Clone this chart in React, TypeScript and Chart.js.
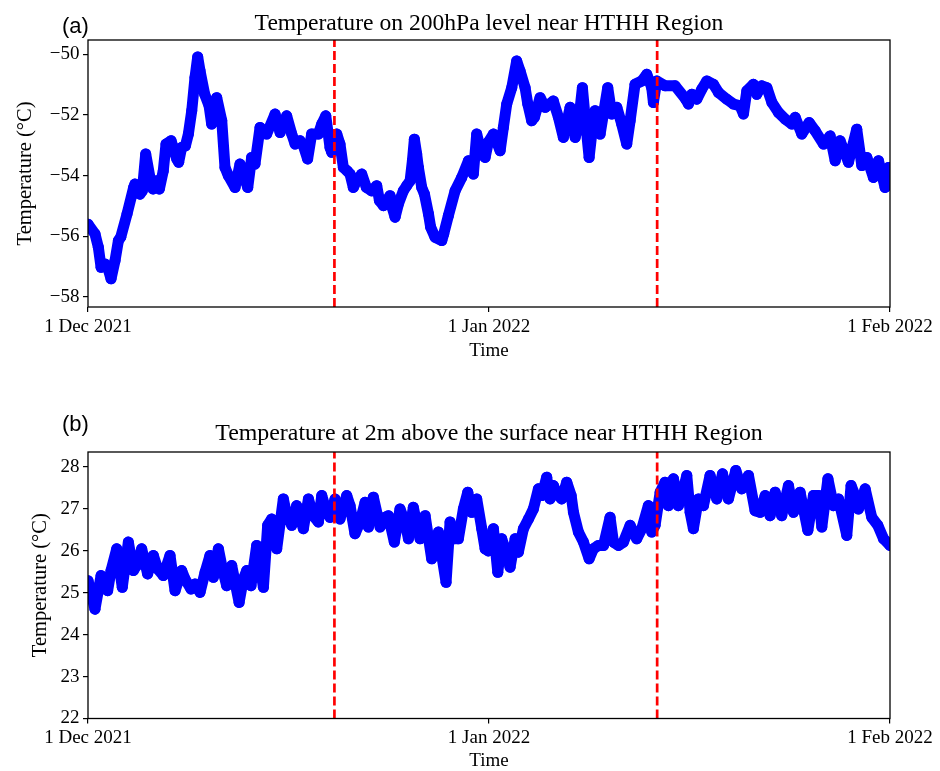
import React, { useEffect, useRef } from 'react';
import { Chart, registerables } from 'chart.js';

Chart.register(...registerables);

// x axis: days since 1 Dec 2021 00:00
const xTickDays = [0, 31, 62];
const xTickLabels = ['1 Dec 2021', '1 Jan 2022', '1 Feb 2022'];
const eruptionDays = [19.05, 44.0];

const yTicksA = [-58, -56, -54, -52, -50];
const yTicksB = [22, 23, 24, 25, 26, 27, 28];

// (a) 200 hPa temperature
const daysA = [
  0.0, 0.54, 0.8, 1.01, 1.31, 1.52, 1.78, 2.09, 2.35, 2.53, 3.02, 3.53, 3.63, 4.02, 4.2, 4.46, 4.79, 5.03, 5.31, 5.52,
  5.82, 6.03, 6.42, 6.86, 7.01, 7.24, 7.53, 7.76, 8.02, 8.27, 8.48, 8.66, 9.02, 9.36, 9.56, 9.95, 10.34, 10.59, 10.85, 11.37,
  11.75, 12.35, 12.65, 12.91, 13.3, 13.81, 14.46, 14.85, 15.36, 15.75, 16.01, 16.39, 16.65, 16.98, 17.29, 17.81, 18.07, 18.38, 18.71, 18.84,
  19.23, 19.48, 19.74, 20.03, 20.26, 20.51, 20.77, 21.16, 21.52, 21.93, 22.32, 22.53, 22.84, 23.35, 23.51, 23.74, 24.0, 24.38, 24.64, 24.9,
  25.08, 25.23, 25.41, 25.54, 25.8, 26.01, 26.32, 26.49, 26.83, 27.35, 27.5, 27.86, 28.38, 28.89, 29.41, 29.79, 30.05, 30.44, 30.7, 30.95,
  31.34, 31.86, 32.11, 32.37, 32.76, 33.14, 33.4, 33.79, 34.0, 34.3, 34.51, 34.95, 35.34, 35.97, 36.37, 36.75, 37.27, 37.66, 37.91, 38.22,
  38.43, 38.74, 39.0, 39.2, 39.59, 40.18, 40.49, 40.88, 41.26, 41.65, 41.91, 42.29, 42.81, 43.2, 43.58, 43.71, 43.97, 44.61, 45.39, 46.16,
  46.42, 46.68, 47.06, 47.45, 47.84, 48.35, 48.74, 49.38, 49.9, 50.41, 50.67, 50.93, 51.44, 51.7, 52.09, 52.48, 52.87, 53.38, 53.9, 54.41,
  54.67, 55.18, 55.75, 56.21, 56.86, 57.37, 57.76, 58.14, 58.79, 59.43, 59.82, 60.21, 60.72, 61.11, 61.62, 61.88, 62.0,
];
const temp200 = [
  -55.6, -55.92, -56.36, -57.02, -56.91, -57.02, -57.4, -56.8, -56.14, -56.03, -55.26, -54.39, -54.28, -54.61, -54.5, -53.29, -54.06, -54.44, -54.17, -54.44,
  -53.84, -52.96, -52.85, -53.45, -53.56, -53.07, -53.02, -52.63, -51.86, -50.77, -50.09, -50.55, -51.32, -51.7, -52.3, -51.43, -52.19, -53.73, -54.0, -54.39,
  -53.62, -54.39, -53.4, -53.62, -52.41, -52.63, -51.97, -52.58, -52.03, -52.63, -52.96, -52.85, -53.02, -53.45, -52.63, -52.63, -52.3, -52.03, -53.07, -53.23,
  -52.63, -52.96, -53.73, -53.84, -53.95, -54.39, -54.17, -53.95, -54.39, -54.5, -54.33, -54.82, -54.99, -54.66, -55.04, -55.37, -54.93, -54.5, -54.33, -54.17,
  -53.51, -52.8, -53.29, -53.73, -54.39, -54.61, -55.26, -55.7, -56.03, -56.14, -55.92, -55.32, -54.5, -54.06, -53.51, -53.95, -52.63, -53.29, -53.4, -52.9,
  -52.63, -53.18, -52.41, -51.64, -51.1, -50.22, -50.55, -51.1, -51.64, -52.19, -52.08, -51.43, -51.75, -51.54, -52.08, -52.74, -51.75, -52.74, -52.3, -51.1,
  -52.08, -53.4, -52.41, -51.86, -52.63, -51.1, -51.97, -51.75, -52.3, -52.96, -52.19, -50.99, -50.88, -50.66, -51.1, -51.59, -50.88, -51.04, -51.04, -51.45,
  -51.64, -51.32, -51.48, -51.15, -50.88, -50.99, -51.26, -51.48, -51.64, -51.7, -51.97, -51.21, -50.99, -51.32, -51.04, -51.1, -51.59, -51.92, -52.14, -52.3,
  -52.08, -52.63, -52.25, -52.52, -52.96, -52.69, -53.51, -52.85, -53.56, -52.47, -53.67, -53.4, -54.06, -53.51, -54.39, -53.73, -53.95,
];

// (b) 2 m temperature
const daysB = [
  0.0, 0.54, 1.01, 1.52, 1.78, 2.22, 2.65, 3.12, 3.51, 3.76, 4.15, 4.61, 5.05, 5.39, 5.82, 6.34, 6.73, 7.24, 7.5, 7.96,
  8.27, 8.66, 9.05, 9.43, 9.69, 10.08, 10.39, 10.72, 11.11, 11.68, 12.01, 12.27, 12.6, 13.04, 13.56, 13.89, 14.2, 14.59, 15.1, 15.3,
  15.75, 16.13, 16.65, 17.04, 17.42, 17.81, 18.07, 18.45, 18.71, 19.1, 19.48, 20.0, 20.26, 20.64, 21.03, 21.42, 21.68, 22.06, 22.58, 22.96,
  23.22, 23.68, 24.12, 24.51, 24.77, 25.15, 25.67, 26.06, 26.57, 26.83, 27.09, 27.35, 27.68, 27.99, 28.25, 28.63, 29.02, 29.36, 29.67, 30.05,
  30.44, 30.7, 30.95, 31.34, 31.68, 31.98, 32.24, 32.63, 33.02, 33.27, 33.66, 34.05, 34.43, 34.82, 35.08, 35.46, 35.72, 35.98, 36.24, 36.62,
  37.01, 37.35, 37.53, 37.91, 38.3, 38.74, 39.07, 39.46, 39.85, 40.36, 40.62, 41.01, 41.39, 41.91, 42.42, 42.81, 43.32, 43.58, 43.84, 44.23,
  44.61, 44.87, 45.26, 45.64, 46.03, 46.29, 46.55, 46.8, 47.19, 47.58, 48.09, 48.61, 49.05, 49.51, 50.08, 50.54, 51.06, 51.57, 51.96, 52.35,
  52.73, 53.12, 53.63, 54.15, 54.54, 55.05, 55.65, 56.08, 56.47, 56.73, 57.2, 57.63, 58.02, 58.66, 58.99, 59.3, 59.56, 60.08, 60.59, 61.06,
  61.5, 62.0,
];
const temp2m = [
  25.29, 24.61, 25.41, 25.05, 25.53, 26.05, 25.13, 26.21, 25.53, 25.65, 26.05, 25.45, 25.89, 25.57, 25.41, 25.89, 25.05, 25.53, 25.33, 25.09,
  25.21, 25.01, 25.49, 25.89, 25.37, 26.05, 25.57, 25.17, 25.65, 24.77, 25.33, 25.53, 25.17, 26.13, 25.13, 26.61, 26.76, 26.05, 27.24, 26.95,
  26.61, 27.08, 26.53, 27.24, 26.84, 26.69, 27.32, 26.92, 26.8, 27.24, 26.76, 27.32, 27.08, 26.41, 26.69, 27.16, 26.57, 27.28, 26.57, 26.8,
  26.84, 26.21, 27.0, 26.69, 26.29, 27.04, 26.29, 26.84, 25.81, 26.13, 26.45, 25.89, 25.25, 26.69, 26.29, 26.29, 27.0, 27.4, 26.92, 27.24,
  26.53, 26.05, 26.0, 26.53, 25.49, 26.29, 26.05, 25.61, 26.29, 25.97, 26.53, 26.76, 27.0, 27.48, 27.32, 27.76, 27.24, 27.56, 27.36, 27.24,
  27.64, 27.32, 26.92, 26.45, 26.21, 25.81, 26.05, 26.13, 26.13, 26.8, 26.21, 26.13, 26.21, 26.61, 26.29, 26.53, 27.08, 26.45, 26.61, 27.4,
  27.64, 27.08, 27.72, 27.08, 27.48, 27.8, 26.92, 26.53, 27.24, 27.08, 27.8, 27.24, 27.84, 27.24, 27.92, 27.48, 27.8, 26.96, 26.92, 27.32,
  26.84, 27.4, 26.84, 27.56, 26.92, 27.4, 26.49, 27.32, 27.32, 26.57, 27.72, 27.08, 27.24, 26.37, 27.56, 27.32, 27.0, 27.48, 26.8, 26.61,
  26.29, 26.13,
];

const SERIF = '"Liberation Serif", "DejaVu Serif", serif';
const SANS = '"Liberation Sans", Arial, sans-serif';

const panelDecor = {
  id: 'panelDecor',
  afterDatasetsDraw(chart: any, _args: any, o: any) {
    const { ctx, chartArea: ca } = chart;
    ctx.save();
    ctx.strokeStyle = '#000';
    ctx.lineWidth = 1.3;
    ctx.strokeRect(ca.left, ca.top, ca.right - ca.left, ca.bottom - ca.top);
    ctx.fillStyle = '#000';
    ctx.textBaseline = 'alphabetic';
    ctx.font = `${o.titleSize}px ${SERIF}`;
    ctx.textAlign = 'center';
    ctx.fillText(o.title, (ca.left + ca.right) / 2, o.titleY);
    ctx.font = `22px ${SANS}`;
    ctx.textAlign = 'left';
    ctx.fillText(o.letter, o.letterX, o.letterY);
    ctx.restore();
  },
};

type PanelCfg = {
  days: number[];
  temps: number[];
  yMin: number;
  yMax: number;
  yTicks: number[];
  title: string;
  titleSize: number;
  letter: string;
  padTop: number;
  xAxisHeight: number;
  xTitlePad: number;
  yTitlePad: number;
  titleY: number;
  letterY: number;
};

function makeChart(canvas: HTMLCanvasElement, c: PanelCfg) {
  const tickFont = { family: SERIF, size: 19 };
  const grid = {
    display: true,
    drawOnChartArea: false,
    drawTicks: true,
    tickLength: 5,
    color: '#000',
    lineWidth: 1.2,
  };
  const datasets: any[] = eruptionDays.map((d) => ({
    type: 'line',
    data: [
      { x: d, y: c.yMin },
      { x: d, y: c.yMax },
    ],
    borderColor: '#f00',
    borderWidth: 2.7,
    borderDash: [9, 4],
    pointRadius: 0,
    clip: 0,
    order: 1,
  }));
  datasets.push({
    type: 'line',
    data: c.days.map((d, i) => ({ x: d, y: c.temps[i] })),
    borderColor: '#0000ff',
    backgroundColor: '#0000ff',
    borderWidth: 11,
    borderJoinStyle: 'round',
    borderCapStyle: 'round',
    pointRadius: 5.5,
    pointBorderWidth: 0,
    pointBackgroundColor: '#0000ff',
    tension: 0,
    clip: 0,
    order: 2,
  });
  return new Chart(canvas, {
    type: 'line',
    data: { datasets },
    plugins: [panelDecor as any],
    options: {
      responsive: false,
      maintainAspectRatio: false,
      animation: false,
      events: [],
      layout: { padding: { top: c.padTop, right: 50, left: 0, bottom: 0 } },
      plugins: {
        legend: { display: false },
        tooltip: { enabled: false },
        title: { display: false },
        panelDecor: {
          title: c.title,
          titleSize: c.titleSize,
          letter: c.letter,
          titleY: c.titleY,
          letterX: 62,
          letterY: c.letterY,
        },
      } as any,
      scales: {
        x: {
          type: 'linear',
          min: 0,
          max: 62,
          afterBuildTicks: (s: any) => {
            s.ticks = xTickDays.map((v) => ({ value: v }));
          },
          afterFit: (s: any) => {
            s.height = c.xAxisHeight;
            s.paddingLeft = 0;
            s.paddingRight = 0;
          },
          ticks: {
            autoSkip: false,
            maxRotation: 0,
            padding: 3.5,
            color: '#000',
            font: tickFont,
            callback: (v: any) => {
              const i = xTickDays.indexOf(Number(v));
              return i >= 0 ? xTickLabels[i] : '';
            },
          },
          grid,
          border: { display: false },
          title: {
            display: true,
            text: 'Time',
            color: '#000',
            font: { family: SERIF, size: 19, lineHeight: 1 },
            padding: { top: 0, bottom: c.xTitlePad },
          },
        },
        y: {
          type: 'linear',
          min: c.yMin,
          max: c.yMax,
          afterBuildTicks: (s: any) => {
            s.ticks = c.yTicks.map((v) => ({ value: v }));
          },
          afterFit: (s: any) => {
            s.width = 88;
            s.paddingTop = 0;
            s.paddingBottom = 0;
          },
          ticks: {
            padding: 3.5,
            color: '#000',
            font: tickFont,
            callback: (v: any) => String(v).replace('-', '\u2212'),
          },
          grid,
          border: { display: false },
          title: {
            display: true,
            text: 'Temperature (°C)',
            color: '#000',
            font: { family: SERIF, size: 20.5, lineHeight: 1 },
            padding: { top: c.yTitlePad, bottom: 0 },
          },
        },
      },
    } as any,
  });
}

export default function App() {
  const refA = useRef<HTMLCanvasElement>(null);
  const refB = useRef<HTMLCanvasElement>(null);

  useEffect(() => {
    const a = makeChart(refA.current!, {
      days: daysA,
      temps: temp200,
      yMin: -58.33,
      yMax: -49.53,
      yTicks: yTicksA,
      title: 'Temperature on 200hPa level near HTHH Region',
      titleSize: 23.6,
      letter: '(a)',
      padTop: 40,
      xAxisHeight: 78,
      xTitlePad: 24.5,
      yTitlePad: 15,
      titleY: 29.5,
      letterY: 33,
    });
    const b = makeChart(refB.current!, {
      days: daysB,
      temps: temp2m,
      yMin: 22,
      yMax: 28.36,
      yTicks: yTicksB,
      title: 'Temperature at 2m above the surface near HTHH Region',
      titleSize: 23.9,
      letter: '(b)',
      padTop: 67,
      xAxisHeight: 52.5,
      xTitlePad: 0,
      yTitlePad: 30,
      titleY: 440 - 385,
      letterY: 431 - 385,
    });
    return () => {
      a.destroy();
      b.destroy();
    };
  }, []);

  return (
    <div
      style={{
        position: 'absolute',
        left: 0,
        top: 0,
        width: 940,
        height: 771,
        overflow: 'hidden',
        background: '#fff',
      }}
    >
      <canvas ref={refA} width={940} height={385} style={{ position: 'absolute', left: 0, top: 0 }} />
      <canvas ref={refB} width={940} height={386} style={{ position: 'absolute', left: 0, top: 385 }} />
    </div>
  );
}
